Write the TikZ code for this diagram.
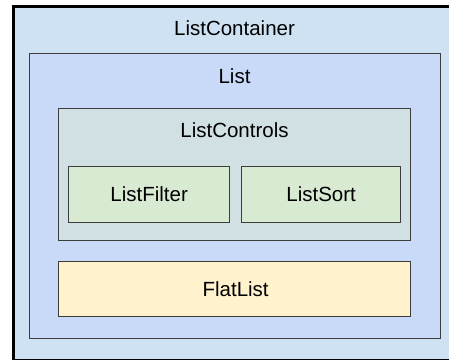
\documentclass[tikz,border=0pt]{standalone}
\usepackage{fontspec}
\setmainfont{Liberation Sans}
\usetikzlibrary{positioning}

\definecolor{containerfill}{HTML}{CFE2F3}
\definecolor{listfill}{HTML}{C9DAF8}
\definecolor{controlsfill}{HTML}{D0E0E3}
\definecolor{leaffill}{HTML}{D9EAD3}
\definecolor{flatfill}{HTML}{FFF2CC}
\definecolor{edgegray}{HTML}{3C3C3C}

\begin{document}
\begin{tikzpicture}[x=1pt,y=-1pt,
  box/.style={draw=edgegray, line width=1.3pt, inner sep=0pt, anchor=north west},
  title/.style={font=\fontsize{20.5}{24}\selectfont, inner sep=0pt}]
\useasboundingbox (0,0) rectangle (449,359);

% Outer container
\node[box, draw=black, line width=3pt, fill=containerfill,
  minimum width=450pt, minimum height=354pt] (container) at (11.5,4.5) {};
\node[title] (containertitle) at (234.5,28.5) {ListContainer};

% List
\node[box, fill=listfill, minimum width=411pt, minimum height=285pt] (list) at (29,53) {};
\node[title] (listtitle) at (234.5,76) {List};

% Controls
\node[box, fill=controlsfill, minimum width=352pt, minimum height=132pt] (controls) at (58,108) {};
\node[title] (controlstitle) at (234.5,130) {ListControls};

% Filter and sort
\node[box, fill=leaffill, minimum width=161pt, minimum height=56pt] (filter) at (68,166) {};
\node[title] at (filter.center) {ListFilter};
\node[box, fill=leaffill, minimum width=159pt, minimum height=56pt] (sort) at (241,166) {};
\node[title] at (sort.center) {ListSort};

% Flat list
\node[box, fill=flatfill, minimum width=352pt, minimum height=55pt] (flat) at (58,261) {};
\node[title] at ([xshift=1pt]flat.center) {FlatList};
\end{tikzpicture}
\end{document}
